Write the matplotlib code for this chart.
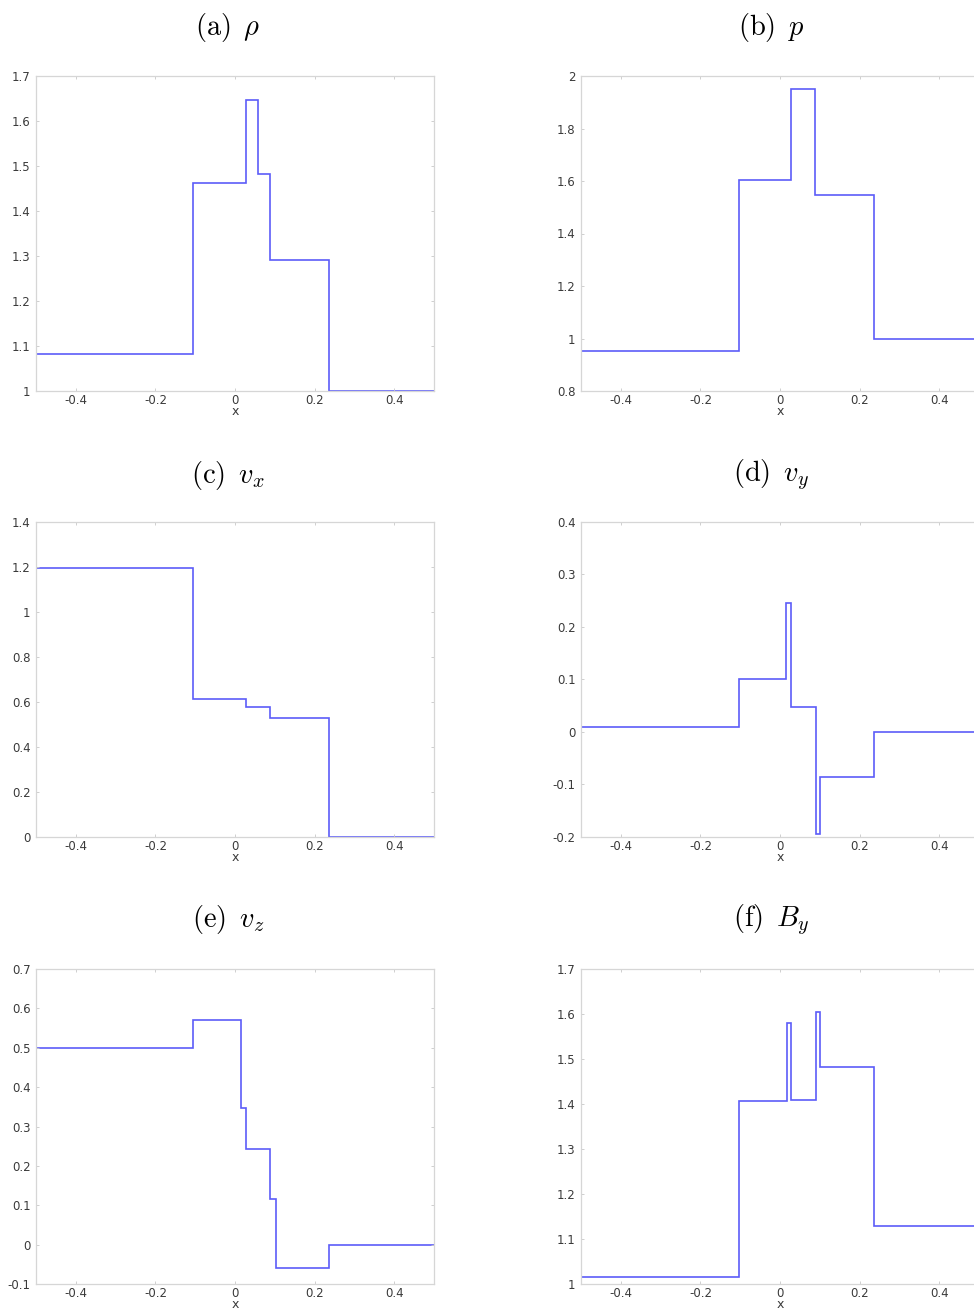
import matplotlib
matplotlib.use("Agg")
import matplotlib.pyplot as plt
import numpy as np
from matplotlib.ticker import FuncFormatter

plt.rcParams['mathtext.fontset'] = 'cm'
plt.rcParams['axes.unicode_minus'] = False

# step profiles: edges of each constant state and the value in it
rho_edges = [-0.5, -0.105, 0.027, 0.058, 0.088, 0.235, 0.5]
rho = [1.082, 1.463, 1.646, 1.483, 1.291, 1.0]

p_edges = [-0.5, -0.104, 0.028, 0.089, 0.235, 0.5]
p = [0.953, 1.603, 1.951, 1.547, 1.0]

vx_edges = [-0.5, -0.105, 0.028, 0.089, 0.235, 0.5]
vx = [1.197, 0.613, 0.576, 0.530, 0.0]

vy_edges = [-0.5, -0.104, 0.016, 0.027, 0.090, 0.101, 0.235, 0.5]
vy = [0.010, 0.100, 0.245, 0.047, -0.194, -0.085, 0.0]

vz_edges = [-0.5, -0.106, 0.015, 0.028, 0.089, 0.102, 0.235, 0.5]
vz = [0.499, 0.571, 0.347, 0.243, 0.115, -0.060, 0.0]

by_edges = [-0.5, -0.104, 0.017, 0.028, 0.090, 0.101, 0.235, 0.5]
by = [1.015, 1.406, 1.580, 1.408, 1.605, 1.483, 1.129]

titles = [r'$\mathrm{(a)}\ \,\rho$', r'$\mathrm{(b)}\ \,p$', r'$\mathrm{(c)}\ \,v_x$',
          r'$\mathrm{(d)}\ \,v_y$', r'$\mathrm{(e)}\ \,v_z$', r'$\mathrm{(f)}\ \,B_y$']
ylims = [(1, 1.7), (0.8, 2), (0, 1.4), (-0.2, 0.4), (-0.1, 0.7), (1, 1.7)]
ysteps = [0.1, 0.2, 0.2, 0.1, 0.1, 0.1]
xticks = [-0.4, -0.2, 0, 0.2, 0.4]

panels = [(rho_edges, rho), (p_edges, p), (vx_edges, vx),
          (vy_edges, vy), (vz_edges, vz), (by_edges, by)]

W, H = 974, 1313
fig = plt.figure(figsize=(W / 100, H / 100), dpi=100)

col_left = [36, 581]
col_w = 398
row_top = [76, 522, 969]
row_h = 315
title_x = [228, 771]
title_y = [27, 475, 920]

fmt = FuncFormatter(lambda v, _: f"{v:g}")
line_c = '#5c5cf8'
frame_c = '#d6d6d6'

for i, (edges, vals) in enumerate(panels):
    r, c = divmod(i, 2)
    ax = fig.add_axes([col_left[c] / W, 1 - (row_top[r] + row_h) / H, col_w / W, row_h / H])
    ax.stairs(vals, edges, baseline=None, color=line_c, lw=1.2, clip_on=False)
    ax.set_xlim(-0.5, 0.5)
    lo, hi = ylims[i]
    ax.set_ylim(lo, hi)
    ax.set_xticks(xticks)
    ax.set_yticks(np.round(np.arange(lo, hi + 1e-9, ysteps[i]), 3))
    ax.xaxis.set_major_formatter(fmt)
    ax.yaxis.set_major_formatter(fmt)
    for s in ax.spines.values():
        s.set_color(frame_c)
        s.set_linewidth(0.9)
    ax.tick_params(direction='in', length=2, width=0.6, color='#c8c8c8',
                   labelsize=8.5, labelcolor='#3a3a3a', top=True, right=True)
    ax.tick_params(axis='y', pad=4)
    ax.tick_params(axis='x', pad=2)
    ax.set_xlabel('x', fontsize=9, color='#3a3a3a', labelpad=-1)
    fig.text(title_x[c] / W, 1 - title_y[r] / H, titles[i], fontsize=20.5,
             ha='center', va='center')

fig.savefig('out.png', dpi=100)
